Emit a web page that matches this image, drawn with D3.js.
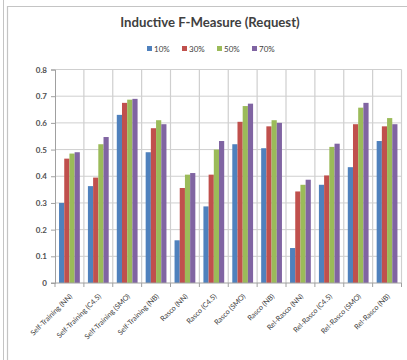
<!DOCTYPE html>
<html>
<head>
<meta charset="utf-8">
<script src="https://cdn.jsdelivr.net/npm/d3@7"></script>
<style>
  body { margin: 0; background: #fff; }
  svg { display: block; }
  text { font-family: Lato, "Liberation Sans", sans-serif; }
</style>
</head>
<body>
<svg id="chart" width="407" height="360"></svg>
<script>
// Inductive F-Measure per method, by labelled-data ratio
const categories = [
  "Self-Training (NN)", "Self-Training (C4.5)", "Self-Training (SMO)", "Self-Training (NB)",
  "Rasco (NN)", "Rasco (C4.5)", "Rasco (SMO)", "Rasco (NB)",
  "Rel-Rasco (NN)", "Rel-Rasco (C4.5)", "Rel-Rasco (SMO)", "Rel-Rasco (NB)"
];
const seriesNames = ["10%", "30%", "50%", "70%"];
const values10 = [0.300, 0.363, 0.630, 0.490, 0.160, 0.287, 0.520, 0.505, 0.131, 0.368, 0.434, 0.532];
const values30 = [0.466, 0.395, 0.675, 0.580, 0.356, 0.406, 0.604, 0.587, 0.343, 0.403, 0.595, 0.587];
const values50 = [0.485, 0.520, 0.687, 0.610, 0.406, 0.500, 0.663, 0.610, 0.368, 0.510, 0.657, 0.618];
const values70 = [0.490, 0.547, 0.690, 0.595, 0.412, 0.532, 0.672, 0.600, 0.387, 0.522, 0.675, 0.595];
const yTicks = [0, 0.1, 0.2, 0.3, 0.4, 0.5, 0.6, 0.7, 0.8];
const colors = ["#4F81BD", "#C0504D", "#9BBB59", "#8064A2"];

const series = [values10, values30, values50, values70];
const svg = d3.select("#chart");

// outer frame lines
svg.append("line").attr("x1", 3.5).attr("x2", 3.5).attr("y1", 0).attr("y2", 360)
  .attr("stroke", "#c4c4c4").attr("stroke-width", 1);
svg.append("path").attr("d", "M7.5,360 V6.5 H407")
  .attr("fill", "none").attr("stroke", "#c4c4c4").attr("stroke-width", 1.2);

const plotLeft = 55, plotRight = 401.5, plotTop = 69.5, plotBottom = 283;

const x = d3.scaleBand().domain(categories).range([plotLeft, plotRight]);
const bw = x.bandwidth();
const xs = d3.scaleBand().domain(seriesNames).range([bw * 0.14, bw * 0.86]);
const y = d3.scaleLinear().domain([0, 0.8]).range([plotBottom, plotTop]);

// title
svg.append("text").attr("x", 210).attr("y", 27)
  .attr("text-anchor", "middle").attr("font-size", 13.2).attr("font-weight", "bold")
  .attr("fill", "#404040").text("Inductive F-Measure (Request)");

// legend
const legendX = [147, 182, 217, 252];
const lg = svg.append("g");
seriesNames.forEach((name, i) => {
  lg.append("rect").attr("x", legendX[i]).attr("y", 46).attr("width", 5).attr("height", 5)
    .attr("fill", colors[i]);
  lg.append("text").attr("x", legendX[i] + 7).attr("y", 51.5)
    .attr("font-size", 8).attr("fill", "#404040").text(name);
});

// horizontal gridlines
svg.append("g").selectAll("line").data(yTicks.slice(1)).join("line")
  .attr("x1", plotLeft).attr("x2", plotRight)
  .attr("y1", d => y(d)).attr("y2", d => y(d))
  .attr("stroke", "#cfcfcf").attr("stroke-width", 1);

// vertical gridlines at category boundaries
const bounds = categories.map(c => x(c)).concat([plotRight]);
svg.append("g").selectAll("line").data(bounds.slice(1)).join("line")
  .attr("x1", d => d).attr("x2", d => d)
  .attr("y1", plotTop).attr("y2", plotBottom)
  .attr("stroke", "#cfcfcf").attr("stroke-width", 1.2);

// bars
const groups = svg.append("g").selectAll("g").data(categories).join("g")
  .attr("transform", c => `translate(${x(c)},0)`);
groups.selectAll("rect")
  .data((c, ci) => series.map((s, si) => ({ name: seriesNames[si], v: s[ci], color: colors[si] })))
  .join("rect")
  .attr("x", d => xs(d.name))
  .attr("width", xs.bandwidth())
  .attr("y", d => y(d.v))
  .attr("height", d => y(0) - y(d.v))
  .attr("fill", d => d.color);

// y axis
const yAxis = d3.axisLeft(y).tickValues(yTicks).tickSize(4).tickPadding(4)
  .tickFormat(d => d === 0 ? "0" : d3.format(".1f")(d));
const yg = svg.append("g").attr("transform", `translate(${plotLeft},0)`).call(yAxis);
yg.select(".domain").attr("stroke", "#a0a0a0");
yg.selectAll(".tick line").attr("stroke", "#a0a0a0");
yg.selectAll(".tick text").attr("font-size", 8).attr("font-weight", "bold")
  .attr("fill", "#505050").attr("font-family", "Lato, sans-serif");

// x axis line and boundary ticks
svg.append("line").attr("x1", plotLeft - 4).attr("x2", plotRight)
  .attr("y1", plotBottom).attr("y2", plotBottom).attr("stroke", "#a0a0a0");
svg.append("g").selectAll("line").data(bounds).join("line")
  .attr("x1", d => d).attr("x2", d => d)
  .attr("y1", plotBottom).attr("y2", plotBottom + 4)
  .attr("stroke", "#a0a0a0");

// rotated category labels
svg.append("g").selectAll("text").data(categories).join("text")
  .attr("transform", c => `translate(${x(c) + bw / 2 + 1.5},${plotBottom + 12}) rotate(-45)`)
  .attr("text-anchor", "end").attr("dominant-baseline", "central")
  .attr("font-size", 7.2).attr("fill", "#404040").text(c => c);
</script>
</body>
</html>
